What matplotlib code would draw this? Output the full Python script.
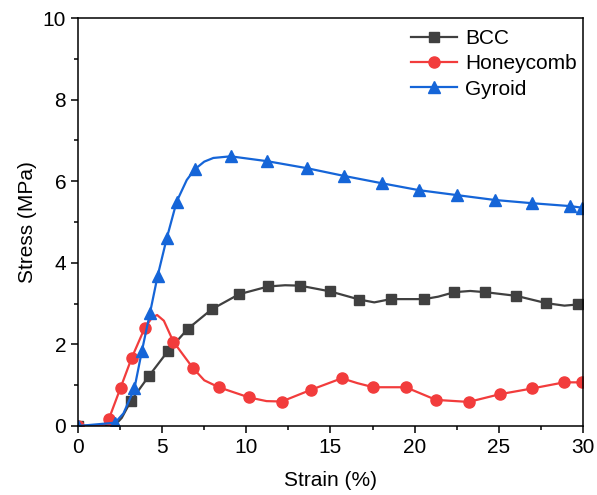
import matplotlib
matplotlib.use("Agg")
import matplotlib.pyplot as plt
from matplotlib.ticker import MultipleLocator

# stress-strain curves (extra points follow the line shape)
bcc_strain = [0, 2.2, 2.6, 3.15, 4.22, 5.33, 6.52, 7.94, 9.57, 11.3, 12.3, 13.19, 14.97,
              16.71, 17.6, 18.58, 20.56, 21.4, 22.36, 23.3, 24.2, 26.04, 27.83, 28.9, 29.71]
bcc_stress = [0, 0.02, 0.2, 0.62, 1.23, 1.83, 2.38, 2.86, 3.23, 3.42, 3.45, 3.44, 3.30,
              3.10, 3.03, 3.11, 3.11, 3.17, 3.28, 3.31, 3.28, 3.19, 3.01, 2.95, 2.98]
bcc_marks = [0, 3, 4, 5, 6, 7, 8, 9, 11, 12, 13, 15, 16, 18, 20, 21, 22, 24]

honey_strain = [0, 1.5, 1.84, 2.53, 3.19, 3.96, 4.4, 4.7, 5.1, 5.66, 6.81, 7.5, 8.36, 10.16,
                11.2, 12.1, 13.86, 15.67, 16.6, 17.55, 19.47, 21.27, 23.21, 25.07, 26.98,
                28.88, 29.97]
honey_stress = [0, 0.0, 0.18, 0.94, 1.67, 2.40, 2.66, 2.72, 2.58, 2.07, 1.43, 1.12, 0.95,
                0.70, 0.61, 0.60, 0.89, 1.17, 1.05, 0.95, 0.95, 0.64, 0.59, 0.78, 0.92,
                1.07, 1.07]
honey_marks = [0, 2, 3, 4, 5, 9, 10, 12, 13, 15, 16, 17, 19, 20, 21, 22, 23, 24, 25, 26]

gyroid_strain = [0, 2.2, 2.7, 3.35, 3.80, 4.28, 4.73, 5.27, 5.86, 6.46, 6.93, 7.5, 8.04, 9.07,
                 11.25, 13.59, 15.8, 18.05, 20.26, 22.5, 24.76, 27.0, 29.23, 29.97]
gyroid_stress = [0, 0.08, 0.31, 0.92, 1.85, 2.78, 3.68, 4.60, 5.50, 6.03, 6.29, 6.48, 6.57,
                 6.61, 6.49, 6.32, 6.13, 5.95, 5.78, 5.66, 5.54, 5.46, 5.39, 5.35]
gyroid_marks = [0, 1, 3, 4, 5, 6, 7, 8, 10, 13, 14, 15, 16, 17, 18, 19, 20, 21, 22, 23]

plt.rcParams['font.family'] = ['Liberation Sans', 'DejaVu Sans']

fig = plt.figure(figsize=(5.97, 4.95), dpi=100)
ax = fig.add_axes([0.1307, 0.1394, 0.8458, 0.8242])

ax.plot(bcc_strain, bcc_stress, color='#404040', lw=1.6, marker='s', ms=7,
        markevery=bcc_marks, label='BCC')
ax.plot(honey_strain, honey_stress, color='#f23c3c', lw=1.6, marker='o', ms=8,
        markevery=honey_marks, label='Honeycomb')
ax.plot(gyroid_strain, gyroid_stress, color='#1565d8', lw=1.6, marker='^', ms=8.5,
        markevery=gyroid_marks, label='Gyroid')

ax.set_xlim(0, 30)
ax.set_ylim(0, 10)
ax.xaxis.set_major_locator(MultipleLocator(5))
ax.xaxis.set_minor_locator(MultipleLocator(2.5))
ax.yaxis.set_major_locator(MultipleLocator(2))
ax.yaxis.set_minor_locator(MultipleLocator(1))
ax.tick_params(which='both', direction='out', width=1.1, labelsize=15)
ax.tick_params(which='major', length=5)
ax.tick_params(which='minor', length=3)
for s in ax.spines.values():
    s.set_linewidth(1.1)

ax.set_xlabel('Strain (%)', fontsize=15, labelpad=10)
ax.set_ylabel('Stress (MPa)', fontsize=15, labelpad=4)

ax.legend(loc='upper right', bbox_to_anchor=(1.004, 0.993), frameon=False, fontsize=15,
          handlelength=2.2, labelspacing=0.3, borderaxespad=0, handletextpad=0.4)

fig.savefig('out.png', dpi=100)
